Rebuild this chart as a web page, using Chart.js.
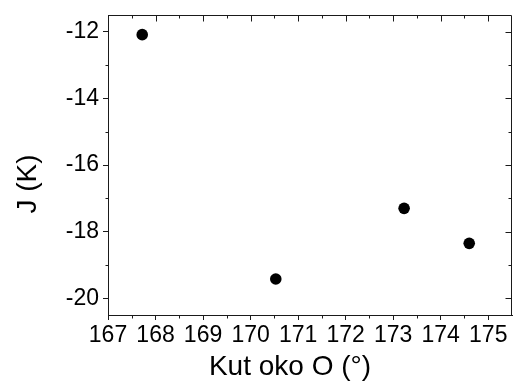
<!DOCTYPE html>
<html lang="hr">
<head>
<meta charset="UTF-8">
<title>J vs Kut oko O</title>
<script src="https://cdn.jsdelivr.net/npm/chart.js"></script>
<style>
  html, body { margin: 0; padding: 0; background: #fff; }
  #wrap { width: 513px; height: 382px; }
</style>
</head>
<body>
<div id="wrap"><canvas id="chart" width="513" height="382"></canvas></div>
<script>
// data
const angles = [167.72, 170.53, 173.23, 174.60];
const jValues = [-12.09, -19.42, -17.30, -18.35];

// axis ticks
const xTicks = [167, 168, 169, 170, 171, 172, 173, 174, 175];
const xMinor = [167.5, 168.5, 169.5, 170.5, 171.5, 172.5, 173.5, 174.5, 175.5];
const yTicks = [-20, -18, -16, -14, -12];
const yMinor = [-19, -17, -15, -13];

const xTitle = 'Kut oko O (\u00B0)';
const yTitle = 'J (K)';

const FONT = '"Liberation Sans", Arial, sans-serif';
const INK = '#1a1a1a';

// top/right frame, mirrored + minor ticks, axis titles
const frameTicks = {
  id: 'frameTicks',
  afterDraw(chart) {
    const { ctx, chartArea: a, scales: { x, y } } = chart;
    const t = Math.round(a.top) + 0.5, b = Math.round(a.bottom) + 0.5;
    const l = Math.round(a.left) + 0.5, r = Math.round(a.right) - 0.5;
    ctx.save();
    ctx.strokeStyle = INK;
    ctx.lineWidth = 1;
    ctx.beginPath();
    ctx.moveTo(l, t); ctx.lineTo(r, t); ctx.lineTo(r, b);
    xTicks.forEach(v => {
      const px = Math.round(x.getPixelForValue(v)) + 0.5;
      ctx.moveTo(px, t); ctx.lineTo(px, t + 6);
    });
    xMinor.forEach(v => {
      const px = Math.round(x.getPixelForValue(v)) + 0.5;
      if (px > r) return;
      ctx.moveTo(px, b); ctx.lineTo(px, b + 3);
      ctx.moveTo(px, t); ctx.lineTo(px, t + 3);
    });
    yTicks.forEach(v => {
      const py = Math.round(y.getPixelForValue(v)) + 0.5;
      ctx.moveTo(r, py); ctx.lineTo(r - 6, py);
    });
    yMinor.forEach(v => {
      const py = Math.round(y.getPixelForValue(v)) + 0.5;
      ctx.moveTo(l, py); ctx.lineTo(l - 3, py);
      ctx.moveTo(r, py); ctx.lineTo(r - 3, py);
    });
    ctx.stroke();

    ctx.fillStyle = '#000';
    ctx.font = '28px ' + FONT;
    ctx.textAlign = 'center';
    ctx.textBaseline = 'middle';
    ctx.fillText(xTitle, 290, 367);
    ctx.translate(28, 184);
    ctx.rotate(-Math.PI / 2);
    ctx.fillText(yTitle, 0, 0);
    ctx.restore();
  }
};

const ctx = document.getElementById('chart').getContext('2d');
new Chart(ctx, {
  type: 'scatter',
  data: {
    datasets: [{
      data: angles.map((a, i) => ({ x: a, y: jValues[i] })),
      backgroundColor: '#000',
      borderWidth: 0,
      pointRadius: 5.8,
      showLine: false
    }]
  },
  options: {
    responsive: false,
    animation: false,
    layout: { autoPadding: false, padding: { top: 15, right: 1, left: 0, bottom: 0 } },
    plugins: { legend: { display: false }, tooltip: { enabled: false } },
    scales: {
      x: {
        type: 'linear',
        position: 'bottom',
        min: 167,
        max: 175.5,
        afterBuildTicks: s => { s.ticks = xTicks.map(value => ({ value })); },
        afterFit: s => { s.height = 67; s.paddingLeft = 0; s.paddingRight = 0; },
        grid: { drawOnChartArea: false, tickLength: 5, tickColor: INK },
        border: { color: INK, width: 1 },
        ticks: { color: '#000', font: { size: 23, family: FONT }, padding: 2, maxRotation: 0, autoSkip: false }
      },
      y: {
        type: 'linear',
        min: -20.5,
        max: -11.5,
        afterBuildTicks: s => { s.ticks = yTicks.map(value => ({ value })); },
        afterFit: s => { s.width = 108; s.paddingTop = 0; s.paddingBottom = 0; },
        grid: { drawOnChartArea: false, tickLength: 5, tickColor: INK },
        border: { color: INK, width: 1 },
        ticks: { color: '#000', font: { size: 23, family: FONT }, padding: 4 }
      }
    }
  },
  plugins: [frameTicks]
});
</script>
</body>
</html>
